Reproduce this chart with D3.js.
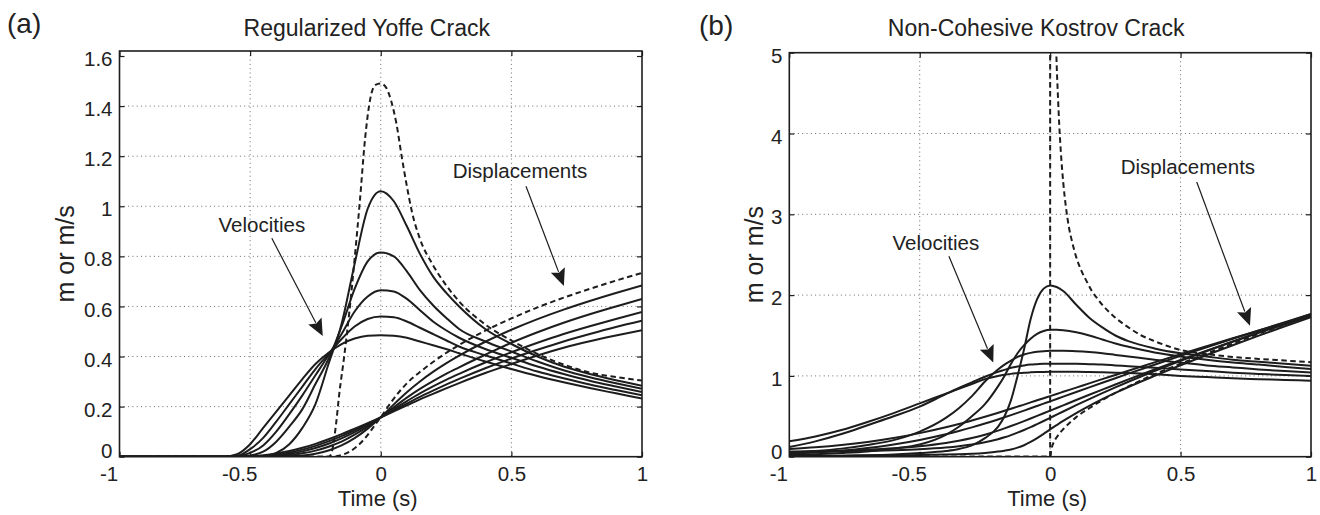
<!DOCTYPE html>
<html>
<head>
<meta charset="utf-8">
<script src="https://cdn.jsdelivr.net/npm/d3@7"></script>
<style>
  body { margin: 0; background: #fff; }
  svg text { font-family: "Liberation Sans", Arial, Helvetica, sans-serif; fill: #222; }
</style>
</head>
<body>
<svg id="fig" width="1320" height="515"></svg>
<script>
// ---------- shared tick values ----------
const ticksX = [-1, -0.5, 0, 0.5, 1];
const gridX = [-0.5, 0, 0.5];

// ---------- (a) Regularized Yoffe crack ----------
const timeA = [-1, -0.6, -0.55, -0.5, -0.45, -0.4, -0.35, -0.3, -0.25, -0.2, -0.15, -0.1, -0.05, 0,
               0.05, 0.1, 0.15, 0.2, 0.25, 0.3, 0.4, 0.5, 0.6, 0.7, 0.8, 0.9, 1];
const velA1 = [0, 0, 0, 0, 0.003, 0.015, 0.05, 0.115, 0.21, 0.37, 0.53, 0.77, 0.99, 1.06,
               1.02, 0.92, 0.81, 0.72, 0.655, 0.6, 0.51, 0.45, 0.4, 0.36, 0.33, 0.305, 0.283];
const velA2 = [0, 0, 0, 0.005, 0.02, 0.06, 0.12, 0.19, 0.29, 0.39, 0.52, 0.67, 0.78, 0.815,
               0.8, 0.74, 0.665, 0.605, 0.555, 0.51, 0.46, 0.42, 0.38, 0.345, 0.317, 0.293, 0.271];
const velA3 = [0, 0, 0.002, 0.015, 0.045, 0.1, 0.17, 0.245, 0.325, 0.405, 0.49, 0.58, 0.64, 0.665,
               0.66, 0.63, 0.585, 0.54, 0.505, 0.475, 0.43, 0.395, 0.36, 0.33, 0.303, 0.28, 0.258];
const velA4 = [0, 0, 0.003, 0.03, 0.075, 0.14, 0.21, 0.28, 0.35, 0.41, 0.47, 0.52, 0.55, 0.56,
               0.557, 0.54, 0.515, 0.49, 0.465, 0.44, 0.405, 0.372, 0.34, 0.313, 0.288, 0.266, 0.245];
const velA5 = [0, 0, 0.01, 0.05, 0.115, 0.18, 0.245, 0.31, 0.37, 0.415, 0.45, 0.472, 0.483, 0.485,
               0.483, 0.475, 0.46, 0.445, 0.43, 0.413, 0.38, 0.35, 0.322, 0.297, 0.274, 0.253, 0.232];
const dispA1 = [0, 0, 0, 0, 0, 0.0005, 0.0015, 0.005, 0.012, 0.025, 0.045, 0.074, 0.112, 0.157,
                0.209, 0.2575, 0.3005, 0.3385, 0.3725, 0.4035, 0.459, 0.507, 0.5495, 0.5875, 0.622, 0.654, 0.684];
const dispA2 = [0, 0, 0, 0, 0.0005, 0.0024, 0.0064, 0.0134, 0.0243, 0.04, 0.06, 0.088, 0.12, 0.157,
                0.197, 0.236, 0.271, 0.302, 0.331, 0.357, 0.407, 0.455, 0.497, 0.535, 0.569, 0.6, 0.63];
const dispA3 = [0, 0, 0, 0.0004, 0.0018, 0.0052, 0.0116, 0.0213, 0.0347, 0.0519, 0.073, 0.098, 0.127, 0.157,
                0.19, 0.222, 0.253, 0.281, 0.307, 0.331, 0.376, 0.417, 0.455, 0.49, 0.521, 0.55, 0.578];
const dispA4 = [0, 0, 0.0001, 0.0009, 0.0033, 0.0084, 0.0167, 0.0283, 0.0432, 0.0612, 0.082, 0.1055, 0.131, 0.157,
                0.185, 0.212, 0.239, 0.264, 0.288, 0.3105, 0.353, 0.392, 0.427, 0.46, 0.49, 0.518, 0.543];
const dispA5 = [0, 0, 0.0002, 0.0016, 0.0055, 0.0124, 0.0224, 0.0354, 0.0514, 0.0698, 0.09, 0.112, 0.134, 0.157,
                0.181, 0.205, 0.229, 0.251, 0.273, 0.294, 0.334, 0.37, 0.404, 0.435, 0.461, 0.484, 0.505];
// reference (unregularized) Yoffe curves, dashed
const yoffeVelTime = [-1, -0.2, -0.19, -0.18, -0.17, -0.16, -0.14, -0.12, -0.1, -0.08, -0.06, -0.04, -0.02, 0,
                      0.02, 0.04, 0.06, 0.08, 0.1, 0.12, 0.15, 0.2, 0.25, 0.3, 0.4, 0.5, 0.6, 0.7, 0.8, 0.9, 1];
const yoffeVel = [0, 0, 0.01, 0.06, 0.14, 0.24, 0.4, 0.58, 0.79, 1.02, 1.27, 1.43, 1.485, 1.49,
                  1.475, 1.42, 1.33, 1.2, 1.08, 0.975, 0.87, 0.765, 0.685, 0.62, 0.528, 0.464, 0.41, 0.368, 0.336, 0.318, 0.304];
const yoffeDispTime = [-1, -0.2, -0.18, -0.16, -0.14, -0.12, -0.1, -0.08, -0.06, -0.04, -0.02, 0,
                       0.05, 0.1, 0.15, 0.2, 0.25, 0.3, 0.4, 0.5, 0.6, 0.7, 0.8, 0.9, 1];
const yoffeDisp = [0, 0, 0.0006, 0.0036, 0.01, 0.02, 0.0336, 0.0514, 0.0743, 0.101, 0.13, 0.158,
                   0.232, 0.293, 0.338, 0.378, 0.414, 0.446, 0.503, 0.552, 0.596, 0.635, 0.67, 0.703, 0.734];
const ticksYA = [0, 0.2, 0.4, 0.6, 0.8, 1, 1.2, 1.4, 1.6];
const gridYA = [0.2, 0.4, 0.6, 0.8, 1, 1.2, 1.4];

// ---------- (b) Non-cohesive Kostrov crack ----------
const timeB = [-1, -0.9, -0.8, -0.7, -0.6, -0.5, -0.4, -0.35, -0.3, -0.25, -0.2, -0.175, -0.15, -0.125, -0.1, -0.075, -0.05, -0.025, 0,
               0.025, 0.05, 0.1, 0.15, 0.2, 0.25, 0.3, 0.4, 0.5, 0.6, 0.7, 0.8, 0.9, 1];
const velB1 = [0.005, 0.008, 0.012, 0.018, 0.028, 0.045, 0.07, 0.095, 0.14, 0.23, 0.37, 0.5, 0.7, 1.0, 1.33, 1.7, 1.95, 2.08, 2.12,
               2.1, 2.05, 1.88, 1.72, 1.6, 1.5, 1.43, 1.34, 1.28, 1.24, 1.2, 1.175, 1.15, 1.125];
const velB2 = [0.02, 0.03, 0.045, 0.065, 0.1, 0.15, 0.27, 0.37, 0.5, 0.65, 0.87, 1.0, 1.15, 1.28, 1.38, 1.46, 1.52, 1.555, 1.57,
               1.57, 1.565, 1.54, 1.5, 1.45, 1.4, 1.36, 1.29, 1.24, 1.2, 1.165, 1.14, 1.11, 1.085];
const velB3 = [0.05, 0.07, 0.1, 0.145, 0.205, 0.31, 0.48, 0.6, 0.75, 0.93, 1.08, 1.14, 1.19, 1.235, 1.265, 1.285, 1.298, 1.306, 1.31,
               1.31, 1.31, 1.305, 1.295, 1.28, 1.26, 1.24, 1.2, 1.165, 1.13, 1.105, 1.08, 1.06, 1.043];
const velB4 = [0.12, 0.19, 0.28, 0.39, 0.5, 0.62, 0.775, 0.85, 0.92, 0.99, 1.05, 1.075, 1.1, 1.117, 1.13, 1.14, 1.145, 1.149, 1.15,
               1.15, 1.15, 1.15, 1.145, 1.14, 1.13, 1.12, 1.1, 1.08, 1.06, 1.04, 1.025, 1.01, 1.0];
const velB5 = [0.19, 0.25, 0.33, 0.43, 0.54, 0.66, 0.78, 0.84, 0.9, 0.96, 1.0, 1.013, 1.025, 1.033, 1.04, 1.044, 1.047, 1.049, 1.05,
               1.05, 1.05, 1.05, 1.048, 1.045, 1.04, 1.035, 1.02, 1.0, 0.985, 0.97, 0.96, 0.95, 0.94];
const dispB1 = [0.01, 0.011, 0.012, 0.014, 0.016, 0.02, 0.027, 0.031, 0.037, 0.047, 0.063, 0.075, 0.09, 0.112, 0.142, 0.182, 0.23, 0.283, 0.338,
                0.391, 0.443, 0.54, 0.63, 0.713, 0.79, 0.863, 1.0, 1.132, 1.258, 1.38, 1.498, 1.614, 1.728];
const dispB2 = [0.06, 0.0625, 0.066, 0.072, 0.08, 0.092, 0.1125, 0.1285, 0.15, 0.179, 0.217, 0.24, 0.267, 0.298, 0.331, 0.3665, 0.404, 0.442, 0.481,
                0.5205, 0.5597, 0.6373, 0.7133, 0.787, 0.8583, 0.9273, 1.06, 1.1863, 1.3083, 1.4266, 1.5418, 1.6543, 1.764];
const dispB3 = [0.06, 0.066, 0.0745, 0.0868, 0.1043, 0.13, 0.1695, 0.1965, 0.2303, 0.2723, 0.3225, 0.3503, 0.3794, 0.4097, 0.4409, 0.4728, 0.5051, 0.5376, 0.5703,
                0.6031, 0.6358, 0.7012, 0.7662, 0.8306, 0.8941, 0.9566, 1.0786, 1.1968, 1.3116, 1.4233, 1.5326, 1.6396, 1.7447];
const dispB4 = [0.035, 0.0505, 0.074, 0.1075, 0.152, 0.208, 0.2778, 0.3184, 0.3626, 0.4103, 0.4613, 0.4879, 0.5151, 0.5428, 0.5709, 0.5993, 0.6279, 0.6566, 0.6853,
                0.714, 0.7428, 0.8003, 0.8577, 0.9148, 0.9716, 1.0278, 1.1388, 1.2478, 1.3548, 1.4598, 1.5631, 1.6648, 1.7653];
const dispB5 = [0.094, 0.116, 0.145, 0.183, 0.232, 0.292, 0.364, 0.404, 0.448, 0.494, 0.543, 0.568, 0.594, 0.62, 0.645, 0.672, 0.698, 0.724, 0.75,
                0.776, 0.803, 0.855, 0.908, 0.96, 1.012, 1.064, 1.167, 1.268, 1.367, 1.465, 1.561, 1.657, 1.751];
// reference Kostrov curves, dashed: jump at the rupture front, then the decaying tail
const kostrovFrontTime = [-1, 0, 0];
const kostrovFrontVel = [0, 0, 5.4];
const kostrovVelTime = [0.02, 0.025, 0.03, 0.035, 0.04, 0.05, 0.06, 0.072, 0.085, 0.1, 0.12, 0.14, 0.16, 0.18, 0.2,
                        0.25, 0.3, 0.35, 0.4, 0.45, 0.5, 0.6, 0.7, 0.8, 0.9, 1];
const kostrovVel = [5.4, 4.85, 4.45, 4.1, 3.82, 3.4, 3.1, 2.84, 2.65, 2.47, 2.3, 2.17, 2.05, 1.96, 1.88,
                    1.72, 1.6, 1.5, 1.43, 1.37, 1.32, 1.27, 1.235, 1.21, 1.19, 1.17];
const kostrovDispTime = [-1, 0, 0.005, 0.01, 0.02, 0.035, 0.05, 0.075, 0.1, 0.15, 0.2, 0.25, 0.3, 0.4, 0.5, 0.6, 0.7, 0.8, 0.9, 1];
const kostrovDisp = [0, 0, 0.1, 0.15, 0.215, 0.285, 0.34, 0.42, 0.49, 0.6, 0.7, 0.79, 0.87, 1.02, 1.15, 1.276, 1.4, 1.522, 1.64, 1.755];
const ticksYB = [0, 1, 2, 3, 4, 5];
const gridYB = [1, 2, 3, 4];

// ---------- drawing ----------
const svg = d3.select("#fig");
const INK = "#1d1d1d";
const TICK_FONT = 20.5;

function drawPanel(p) {
  const x = d3.scaleLinear().domain([-1, 1]).range([p.left, p.right]);
  const y = d3.scaleLinear().domain(p.yDomain).range([p.bottom, p.top]);
  const g = svg.append("g");

  g.append("clipPath").attr("id", p.id + "-clip")
    .append("rect")
    .attr("x", p.left).attr("y", p.top)
    .attr("width", p.right - p.left).attr("height", p.bottom - p.top);

  // dotted grid
  const grid = g.append("g")
    .attr("stroke", "#6a6a6a").attr("stroke-width", 1).attr("stroke-dasharray", "1,3.3");
  grid.selectAll("line.gx").data(gridX).join("line").attr("class", "gx")
    .attr("x1", d => x(d)).attr("x2", d => x(d)).attr("y1", p.top).attr("y2", p.bottom);
  grid.selectAll("line.gy").data(p.gridY).join("line").attr("class", "gy")
    .attr("y1", d => y(d)).attr("y2", d => y(d)).attr("x1", p.left).attr("x2", p.right);

  // curves
  const plot = g.append("g").attr("clip-path", `url(#${p.id}-clip)`);
  const smooth = d3.line().x(d => x(d[0])).y(d => y(d[1])).curve(d3.curveMonotoneX);
  const straight = d3.line().x(d => x(d[0])).y(d => y(d[1]));
  p.series.forEach(s => {
    plot.append("path")
      .datum(d3.zip(s.t, s.v))
      .attr("d", s.linear ? straight : smooth)
      .attr("fill", "none")
      .attr("stroke", INK)
      .attr("stroke-width", 2)
      .attr("stroke-linejoin", "round")
      .attr("stroke-dasharray", s.dashed ? "5.5,3.5" : null);
  });

  // axes with inward ticks
  const styleAxis = a => {
    a.select(".domain").remove();
    a.selectAll("line").attr("stroke", INK).attr("stroke-width", 1.2);
    a.selectAll("text").style("font-size", TICK_FONT + "px");
  };
  g.append("g").attr("transform", `translate(${p.left},0)`)
    .call(d3.axisLeft(y).tickValues(p.yTicks).tickSize(-5).tickPadding(7).tickFormat(d => String(d)))
    .call(styleAxis)
    .call(a => a.selectAll("text").attr("dy", d => d === 0 ? p.zeroDy : "0.47em"));
  g.append("g").attr("transform", `translate(${p.right},0)`)
    .call(d3.axisRight(y).tickValues(p.yTicks).tickSize(-5).tickFormat(""))
    .call(styleAxis);
  g.append("g").attr("transform", `translate(0,${p.bottom})`)
    .call(d3.axisBottom(x).tickValues(ticksX).tickSize(-5).tickPadding(10).tickFormat(d => String(d)))
    .call(styleAxis)
    .call(a => a.selectAll("text").attr("dx", d => d < 0 ? -11 : 0));
  g.append("g").attr("transform", `translate(0,${p.top})`)
    .call(d3.axisTop(x).tickValues(ticksX).tickSize(-5).tickFormat(""))
    .call(styleAxis);

  // frame
  g.append("rect")
    .attr("x", p.left).attr("y", p.top)
    .attr("width", p.right - p.left).attr("height", p.bottom - p.top)
    .attr("fill", "none").attr("stroke", INK).attr("stroke-width", 1.6);

  // titles and labels
  const cx = (p.left + p.right) / 2;
  g.append("text").attr("x", cx - 14).attr("y", 36)
    .attr("text-anchor", "middle").style("font-size", "23px").text(p.title);
  g.append("text").attr("x", cx - 3).attr("y", 506)
    .attr("text-anchor", "middle").style("font-size", "22px").text("Time (s)");
  g.append("text")
    .attr("transform", `translate(${p.yLabelX},${(p.top + p.bottom) / 2}) rotate(-90)`)
    .attr("text-anchor", "middle").style("font-size", "25px").text("m or m/s");
  g.append("text").attr("x", p.tagX).attr("y", p.tagY)
    .style("font-size", "28px").text(p.tag);

  // arrow annotations
  p.notes.forEach(n => {
    g.append("text").attr("x", x(n.textAt[0])).attr("y", y(n.textAt[1]))
      .attr("text-anchor", "middle").style("font-size", TICK_FONT + "px").text(n.label);
    const x1 = x(n.from[0]), y1 = y(n.from[1]);
    const x2 = x(n.to[0]), y2 = y(n.to[1]);
    const len = Math.hypot(x2 - x1, y2 - y1);
    const ux = (x2 - x1) / len, uy = (y2 - y1) / len;
    const headLen = 17, halfW = 7.5;
    const bx = x2 - ux * headLen, by = y2 - uy * headLen;
    g.append("line").attr("x1", x1).attr("y1", y1).attr("x2", bx + ux * 2).attr("y2", by + uy * 2)
      .attr("stroke", INK).attr("stroke-width", 1.2);
    g.append("path")
      .attr("d", `M${x2},${y2} L${bx - uy * halfW},${by + ux * halfW} L${bx + ux * 3},${by + uy * 3} L${bx + uy * halfW},${by - ux * halfW} Z`)
      .attr("fill", INK);
  });
}

drawPanel({
  id: "yoffe", left: 119.5, right: 642, top: 51, bottom: 456.7,
  yDomain: [0, 1.62], yTicks: ticksYA, gridY: gridYA, zeroDy: "0.06em",
  title: "Regularized Yoffe Crack", tag: "(a)", tagX: 7, tagY: 33, yLabelX: 74,
  series: [
    { t: timeA, v: velA1 }, { t: timeA, v: velA2 }, { t: timeA, v: velA3 },
    { t: timeA, v: velA4 }, { t: timeA, v: velA5 },
    { t: timeA, v: dispA1 }, { t: timeA, v: dispA2 }, { t: timeA, v: dispA3 },
    { t: timeA, v: dispA4 }, { t: timeA, v: dispA5 },
    { t: yoffeVelTime, v: yoffeVel, dashed: true },
    { t: yoffeDispTime, v: yoffeDisp, dashed: true }
  ],
  notes: [
    { label: "Velocities", textAt: [-0.455, 0.897], from: [-0.417, 0.872], to: [-0.222, 0.482] },
    { label: "Displacements", textAt: [0.533, 1.113], from: [0.556, 1.08], to: [0.701, 0.682] }
  ]
});

drawPanel({
  id: "kostrov", left: 789.3, right: 1311, top: 52.7, bottom: 456.7,
  yDomain: [0, 5], yTicks: ticksYB, gridY: gridYB, zeroDy: "0.11em",
  title: "Non-Cohesive Kostrov Crack", tag: "(b)", tagX: 699, tagY: 35, yLabelX: 763,
  series: [
    { t: timeB, v: velB1 }, { t: timeB, v: velB2 }, { t: timeB, v: velB3 },
    { t: timeB, v: velB4 }, { t: timeB, v: velB5 },
    { t: timeB, v: dispB1 }, { t: timeB, v: dispB2 }, { t: timeB, v: dispB3 },
    { t: timeB, v: dispB4 }, { t: timeB, v: dispB5 },
    { t: kostrovFrontTime, v: kostrovFrontVel, dashed: true, linear: true },
    { t: kostrovVelTime, v: kostrovVel, dashed: true },
    { t: kostrovDispTime, v: kostrovDisp, dashed: true }
  ],
  notes: [
    { label: "Velocities", textAt: [-0.438, 2.552], from: [-0.388, 2.48], to: [-0.218, 1.166] },
    { label: "Displacements", textAt: [0.528, 3.495], from: [0.562, 3.4], to: [0.766, 1.622] }
  ]
});
</script>
</body>
</html>
